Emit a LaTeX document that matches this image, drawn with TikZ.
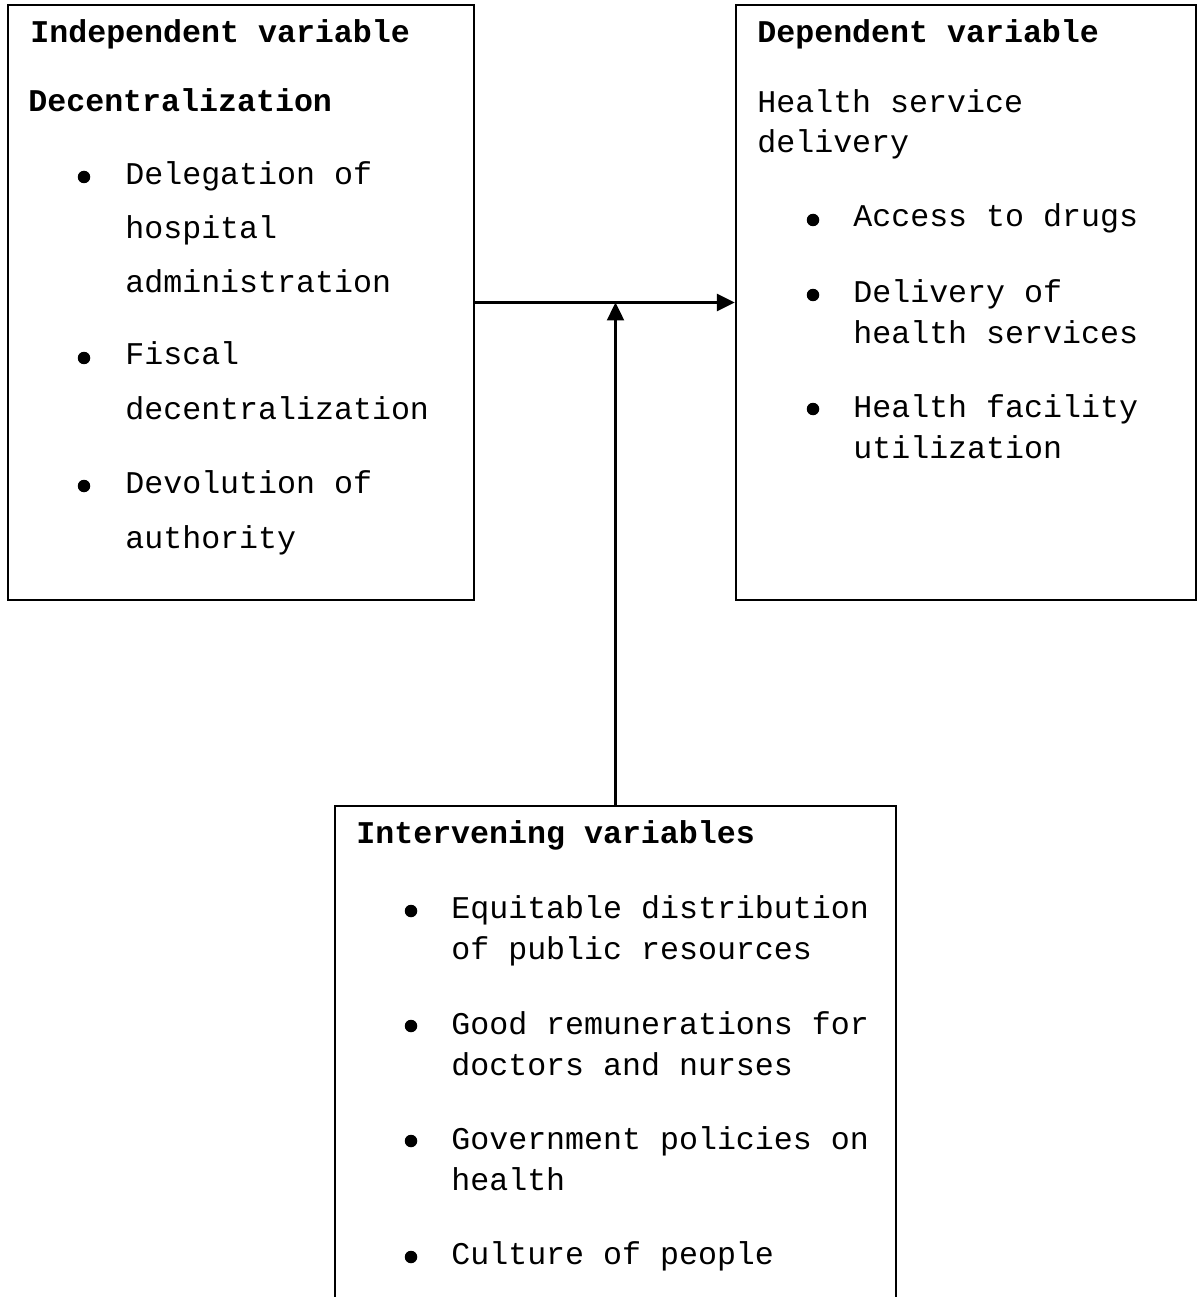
\documentclass[tikz,border=0pt]{standalone}
\usepackage{fontspec}
\setmainfont{Liberation Mono}
\usetikzlibrary{arrows.meta}
\tikzset{
  box/.style={draw, line width=1.4pt, inner sep=0pt},
  head/.style={anchor=base west, inner sep=0pt, font=\fontsize{18}{23.3}\selectfont\bfseries},
  txt/.style={anchor=base west, inner sep=0pt, align=left, font=\fontsize{18}{23.3}\selectfont},
  wide/.style={txt, font=\fontsize{18}{31}\selectfont},
  dot/.style={circle, fill, inner sep=0pt, minimum size=0.25cm},
  arr/.style={line width=1.4pt, -{Triangle[length=0.36cm,width=0.34cm]}}
}
\begin{document}
\begin{tikzpicture}[x=0.02cm, y=-0.02cm]
\useasboundingbox (0,0) rectangle (1197,1297);
\clip (0,0) rectangle (1197,1297);
%
\node[box, minimum width=9.32cm, minimum height=11.9cm] (indep) at (241,302.5) {};
\node[box, minimum width=9.2cm, minimum height=11.9cm] (dep) at (966,302.5) {};
\node[box, minimum width=11.22cm, minimum height=10.28cm] (interv) at (615.5,1063) {};
%
% independent variable (multi-line nodes sit on their last baseline)
\node[head] (h1) at (30,43) {Independent variable};
\node[head] (h2) at (28,112) {Decentralization};
\node[dot] (d1) at (84,177) {};
\node[dot] (d2) at (84,358) {};
\node[dot] (d3) at (84,486) {};
\node[wide] (i1) at (125,293) {Delegation of\\hospital\\administration};
\node[wide] (i2) at (125,419) {Fiscal\\decentralization};
\node[wide] (i3) at (125,548) {Devolution of\\authority};
%
% dependent variable
\node[head] (h3) at (757,43) {Dependent variable};
\node[txt] (t1) at (757,153) {Health service\\delivery};
\node[dot] (d4) at (813,220) {};
\node[dot] (d5) at (813,295) {};
\node[dot] (d6) at (813,409) {};
\node[txt] (j1) at (853,227) {Access to drugs};
\node[txt] (j2) at (853,343) {Delivery of\\health services};
\node[txt] (j3) at (853,458) {Health facility\\utilization};
%
% intervening variables
\node[head] (h4) at (356,843) {Intervening variables};
\node[dot] (d7) at (411,911) {};
\node[dot] (d8) at (411,1026) {};
\node[dot] (d9) at (411,1141) {};
\node[dot] (d10) at (411,1257) {};
\node[txt] (k1) at (451,959) {Equitable distribution\\of public resources};
\node[txt] (k2) at (451,1075) {Good remunerations for\\doctors and nurses};
\node[txt] (k3) at (451,1190) {Government policies on\\health};
\node[txt] (k4) at (451,1264) {Culture of people};
%
\coordinate (join) at (interv.north |- indep.east);
\draw[arr] (indep.east) -- (dep.west);
\draw[arr] (interv.north) -- (join);
\end{tikzpicture}
\end{document}
